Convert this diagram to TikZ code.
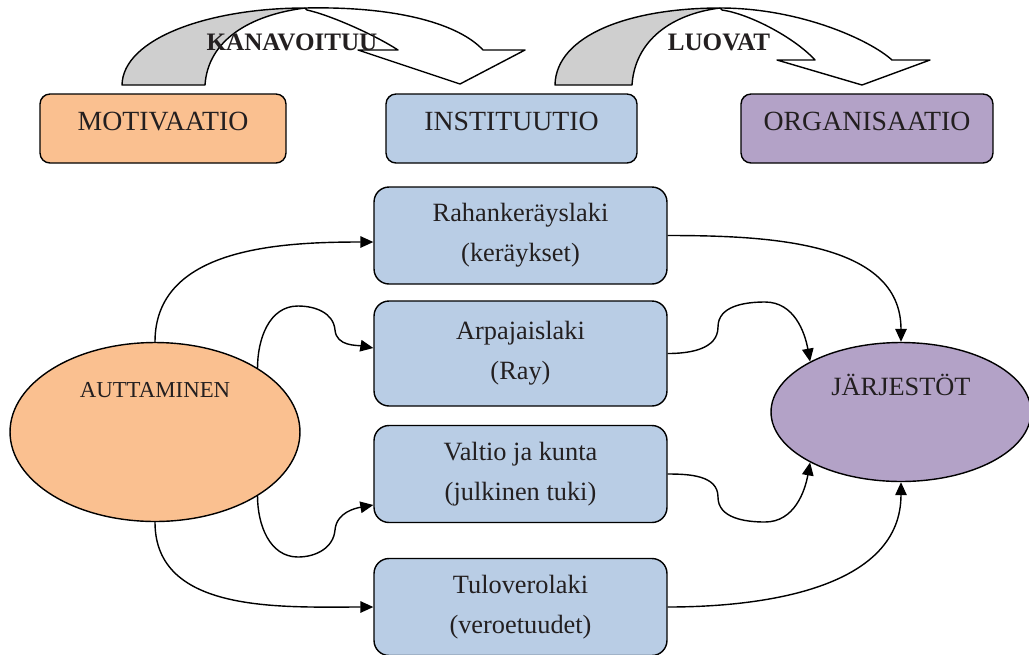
\documentclass[tikz,border=0pt]{standalone}
\usepackage{fontspec}
\setmainfont{Liberation Serif}
\usetikzlibrary{shapes.geometric,arrows.meta}

\definecolor{motivorange}{HTML}{FAC090}
\definecolor{instblue}{HTML}{B9CDE5}
\definecolor{orgpurple}{HTML}{B3A2C7}
\definecolor{bandgray}{HTML}{CFCFCF}
\definecolor{txtdark}{HTML}{231F20}

\begin{document}
\begin{tikzpicture}[x=0.02cm, y=0.02cm,
    topbox/.style={draw, line width=0.8pt, rounded corners=0.2cm, minimum height=1.38cm,
      inner sep=0pt, text height=0.37cm, text depth=0.28cm,
      font=\fontsize{15.8}{19}\selectfont, text=txtdark},
    lawbox/.style={draw, line width=0.8pt, rounded corners=0.3cm, fill=instblue,
      minimum width=5.86cm, minimum height=1.94cm, inner sep=0pt, align=center,
      font=\fontsize{15}{22.7}\selectfont, text=txtdark},
    blob/.style={ellipse, draw, line width=0.8pt, inner sep=0pt, text=txtdark},
    link/.style={line width=0.8pt, -{Triangle[length=0.26cm,width=0.23cm]}},
    band/.style={draw, line width=0.8pt, line join=round},
    verb/.style={font=\fontsize{14.3}{17}\selectfont\bfseries, text=txtdark}]

    % Fix the page to the size of the reference
    \useasboundingbox (0,0) rectangle (1029,-654);

    % Curved arrow between MOTIVAATIO and INSTITUUTIO
    \fill[bandgray] (122,-85) .. controls (123,-38) and (210,-8) .. (305,-8)
        .. controls (250,-15) and (208,-40) .. (205,-85) -- cycle;
    \draw[band] (122,-85) .. controls (123,-38) and (210,-8) .. (305,-8)
        .. controls (250,-15) and (208,-40) .. (205,-85) -- cycle;
    \draw[band, fill=white] (305,-8) .. controls (400,-6) and (460,-25) .. (483,-50)
        -- (525,-50) -- (460,-84) -- (358,-50) -- (398,-50)
        .. controls (375,-35) and (330,-15) .. (307,-10) -- cycle;

    % Curved arrow between INSTITUUTIO and ORGANISAATIO
    \fill[bandgray] (555,-85) .. controls (556,-35) and (630,-8) .. (720,-8)
        .. controls (672,-14) and (635,-40) .. (632,-85) -- cycle;
    \draw[band] (555,-85) .. controls (556,-35) and (630,-8) .. (720,-8)
        .. controls (672,-14) and (635,-40) .. (632,-85) -- cycle;
    \draw[band, fill=white] (720,-8) .. controls (800,-8) and (870,-40) .. (892,-60)
        -- (930,-60) -- (862,-85) -- (777,-60) -- (815,-60)
        .. controls (795,-38) and (750,-14) .. (722,-10) -- cycle;

    % Labels on the curved arrows
    \node[verb] (kanavoituu) at (292,-42) {KANAVOITUU};
    \node[verb] (luovat) at (719,-42) {LUOVAT};

    % Top row
    \node[topbox, fill=motivorange, minimum width=4.92cm] (motivaatio) at (163,-128.5) {MOTIVAATIO};
    \node[topbox, fill=instblue, minimum width=5.02cm] (instituutio) at (511.5,-128.5) {INSTITUUTIO};
    \node[topbox, fill=orgpurple, minimum width=5.04cm] (organisaatio) at (867,-128.5) {ORGANISAATIO};

    % The four laws
    \node[lawbox] (rahan) at (520.5,-235.5) {Rahankeräyslaki\\(keräykset)};
    \node[lawbox, minimum height=2.1cm] (arpa) at (520.5,-353.5) {Arpajaislaki\\(Ray)};
    \node[lawbox] (valtio) at (520.5,-474) {Valtio ja kunta\\(julkinen tuki)};
    \node[lawbox] (tulo) at (520.5,-607) {Tuloverolaki\\(veroetuudet)};

    % Ellipses
    \node[blob, fill=motivorange, minimum width=5.8cm, minimum height=3.58cm,
      font=\fontsize{13}{15}\selectfont, text height=0.3cm, text depth=1.69cm]
      (auttaminen) at (155,-432) {AUTTAMINEN};
    \node[blob, fill=orgpurple, minimum width=5.2cm, minimum height=2.78cm,
      font=\fontsize{15}{18}\selectfont, text height=0.35cm, text depth=1.0cm]
      (jarjestot) at (901,-412) {JÄRJESTÖT};

    % From AUTTAMINEN to the laws
    \draw[link] (auttaminen.north) to[out=90,in=180] ([yshift=-0.13cm]rahan.west);
    \draw[link] (auttaminen.32) to[out=90,in=180] (298,-306) to[out=0,in=95] (335,-330)
        to[out=-85,in=170] ([yshift=0.11cm]arpa.west);
    \draw[link] (auttaminen.-32) to[out=-90,in=180] (298,-557) to[out=0,in=-95] (335,-530)
        to[out=85,in=190] ([yshift=-0.62cm]valtio.west);
    \draw[link] (auttaminen.south) to[out=-90,in=180] (tulo.west);

    % From the laws to JÄRJESTÖT
    \draw[link] (rahan.east) to[out=0,in=90] (jarjestot.north);
    \draw[link] (arpa.east) to[out=0,in=-90] (718,-327) to[out=90,in=180] (765,-302)
        to[out=0,in=100] (jarjestot.151);
    \draw[link] (valtio.east) to[out=0,in=90] (718,-497) to[out=-90,in=180] (765,-522)
        to[out=0,in=-100] (jarjestot.209);
    \draw[link] (tulo.east) to[out=0,in=-90] (jarjestot.south);

\end{tikzpicture}
\end{document}
